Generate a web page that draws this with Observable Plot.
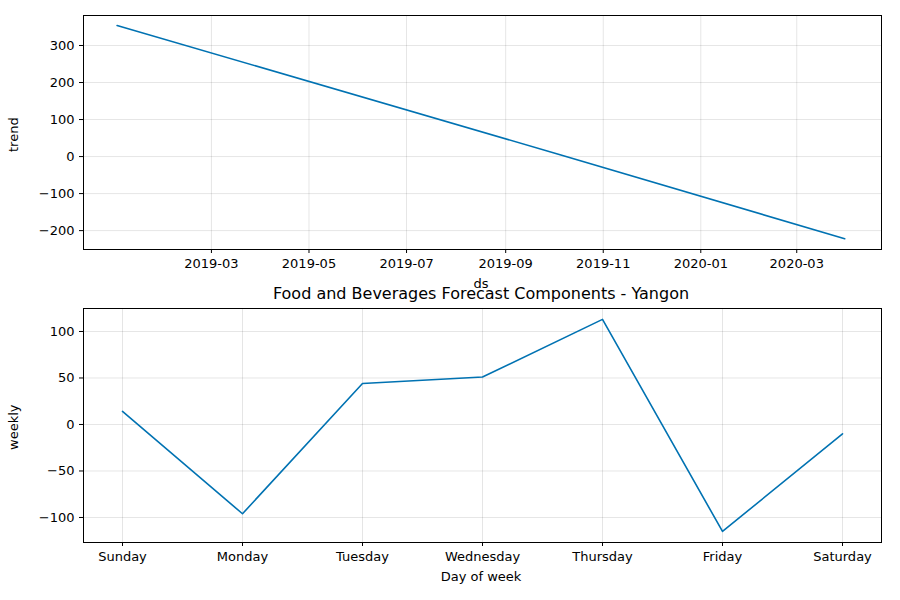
<!DOCTYPE html>
<html><head><meta charset="utf-8">
<script src="https://cdn.jsdelivr.net/npm/d3@7"></script>
<script src="https://cdn.jsdelivr.net/npm/@observablehq/plot@0.6"></script>
<style>
body{margin:0;background:#fff;font-family:"DejaVu Sans",sans-serif;}
#wrap{position:relative;width:900px;height:600px;}
#top,#bot{position:absolute;left:0;}
#top{top:0;} #bot{top:300px;}
.lbl{position:absolute;font-size:13px;color:#000;}
</style></head>
<body><div id="wrap"><div id="top"></div><div id="bot"></div>
<div class="lbl" style="left:0;width:962px;text-align:center;top:276px">ds</div>
<div class="lbl" style="left:0;width:962px;text-align:center;top:284px;font-size:16px">Food and Beverages Forecast Components - Yangon</div>
<div class="lbl" style="left:0;width:962px;text-align:center;top:569px">Day of week</div>
<div class="lbl" style="left:6px;top:152px;transform:rotate(-90deg);transform-origin:left top">trend</div>
<div class="lbl" style="left:6px;top:450px;transform:rotate(-90deg);transform-origin:left top">weekly</div>
</div>
<script>
const trendDates = ["2019-01-01","2019-10-05","2020-03-31"];
const trendValues = [354, 5, -222];
const days = ["Sunday","Monday","Tuesday","Wednesday","Thursday","Friday","Saturday"];
const weeklyValues = [14, -96, 44, 51, 113, -115, -10];

const blue = "#0072B2";
const trend = trendDates.map((d, i) => ({ds: new Date(d), v: trendValues[i]}));
const weekly = days.map((d, i) => ({day: d, v: weeklyValues[i]}));

const common = {width: 900, height: 300, marginLeft: 83, marginRight: 19,
  style: {fontFamily: "DejaVu Sans", fontSize: "13px", color: "#000", background: "white"}};

const trendChart = Plot.plot({
  ...common, marginTop: 15, marginBottom: 51,
  x: {type: "utc", domain: [new Date("2018-12-11"), new Date("2020-04-23")],
      ticks: d3.utcMonth.every(2).range(new Date("2019-02-01"), new Date("2020-04-02")),
      tickFormat: d3.utcFormat("%Y-%m"), label: null, grid: true, tickSize: 4},
  y: {domain: [-251, 381], ticks: d3.range(-200, 301, 100), label: null, grid: true, tickSize: 4},
  marks: [
    Plot.frame({stroke: "#000"}),
    Plot.line(trend, {x: "ds", y: "v", stroke: blue, strokeWidth: 1.6})
  ]
});
const weeklyChart = Plot.plot({
  ...common, marginTop: 8, marginBottom: 58,
  x: {type: "point", domain: days, padding: 0.3, label: null, grid: true, tickSize: 4},
  y: {domain: [-126.9, 124.7], ticks: d3.range(-100, 101, 50), label: null, grid: true, tickSize: 4},
  marks: [
    Plot.frame({stroke: "#000"}),
    Plot.line(weekly, {x: "day", y: "v", stroke: blue, strokeWidth: 1.6})
  ]
});
d3.select("#top").append(() => trendChart);
d3.select("#bot").append(() => weeklyChart);
</script></body></html>
